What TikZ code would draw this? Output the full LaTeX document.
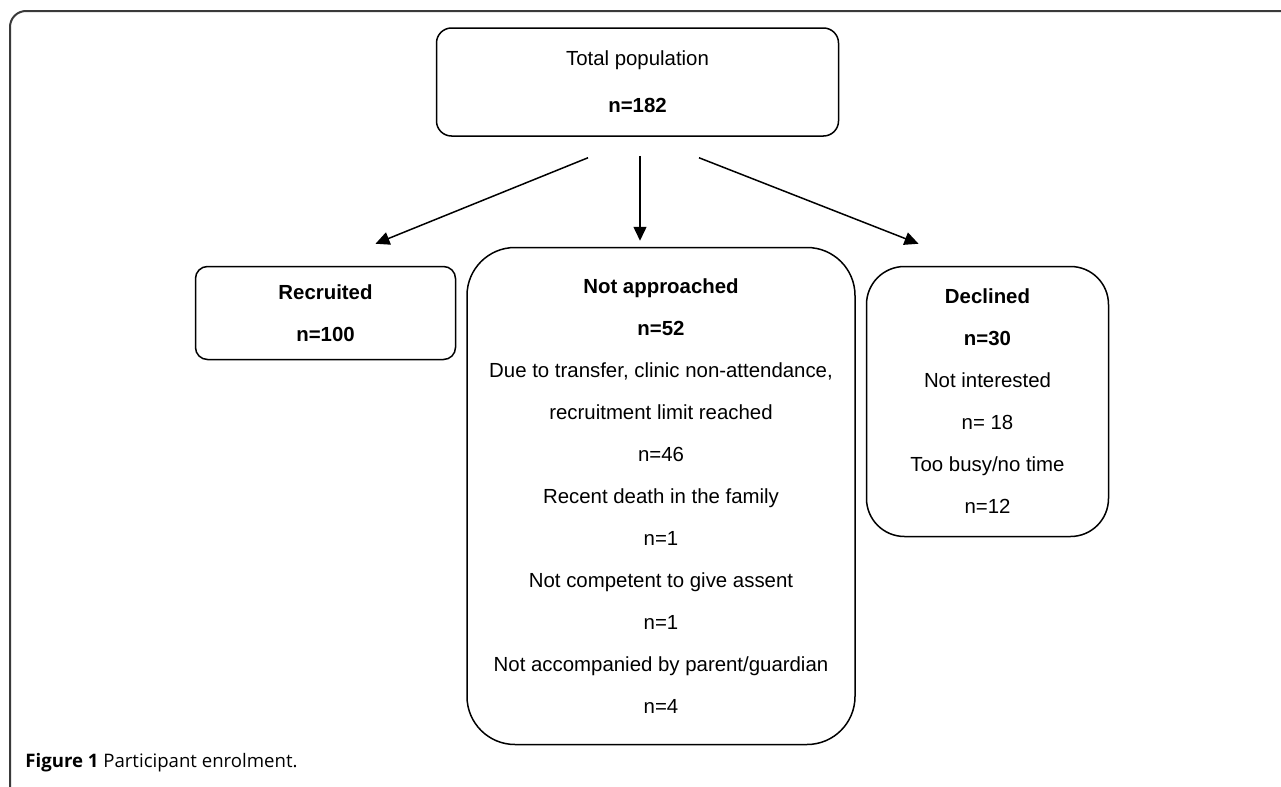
\documentclass[tikz,border=0pt]{standalone}
\usepackage{fontspec}
\setmainfont{Liberation Sans}
\newfontfamily\capfont{Open Sans}
\usepackage{xcolor}
\usetikzlibrary{arrows.meta, positioning}
\definecolor{framegray}{HTML}{3A3A3A}
\tikzset{
  box/.style={
    rectangle, draw, line width=0.75pt, align=center,
    font=\fontsize{10.2pt}{21pt}\selectfont, inner sep=0pt
  },
  topbox/.style  = {box, rounded corners=7.5pt, minimum width=201pt, minimum height=54pt,
                    font=\fontsize{10.2pt}{23.5pt}\selectfont},
  recbox/.style  = {box, rounded corners=6pt,   minimum width=130pt, minimum height=46.5pt},
  napbox/.style  = {box, rounded corners=24pt,  minimum width=194pt, minimum height=248.5pt},
  decbox/.style  = {box, rounded corners=19pt,  minimum width=121pt, minimum height=135pt},
  arr/.style     = {-{Triangle[length=7pt, width=6.5pt]}, line width=0.75pt},
}

\begin{document}
\begin{tikzpicture}[x=0.5pt, y=-0.5pt]
  \useasboundingbox (0,0) rectangle (1281,787);

  % Frame
  \draw[framegray, line width=1pt, rounded corners=8pt] (10,790) -- (10,11) -- (1285,11);

  % Boxes
  \node[topbox] (total) at (637.5,82) {Total population\\ \textbf{n=182}};
  \node[napbox, below=55pt of total, xshift=11.75pt] (notappr) {%
    \textbf{Not approached}\\ \textbf{n=52}\\
    Due to transfer, clinic non-attendance,\\ recruitment limit reached\\ n=46\\
    Recent death in the family\\ n=1\\
    Not competent to give assent\\ n=1\\
    Not accompanied by parent/guardian\\ n=4};
  \node[recbox, below left=9.5pt and 5pt of notappr.north west] (recr)
    {\textbf{Recruited}\\ \textbf{n=100}};
  \node[decbox, below right=9.5pt and 5pt of notappr.north east] (decl)
    {\textbf{Declined}\\ \textbf{n=30}\\ Not interested\\ n= 18\\ Too busy/no time\\ n=12};

  % Arrow ends
  \coordinate (sL) at ([shift={(-49.5,21)}]total.south);
  \coordinate (sM) at ([shift={(2.5,19)}]total.south);
  \coordinate (sR) at ([shift={(61.5,21)}]total.south);
  \coordinate (eL) at ([shift={(50,-22)}]recr.north);
  \coordinate (eM) at ([shift={(-21,-6)}]notappr.north);
  \coordinate (eR) at ([shift={(-69,-22)}]decl.north);

  % Arrows
  \draw[arr] (sL) -- (eL);
  \draw[arr] (sM) -- (eM);
  \draw[arr] (sR) -- (eR);

  % Caption
  \node[anchor=base west, inner sep=0pt, font=\capfont\fontsize{9.3pt}{11pt}\selectfont] (cap)
    at (25,767) {\textbf{Figure 1} Participant enrolment.};

\end{tikzpicture}
\end{document}
